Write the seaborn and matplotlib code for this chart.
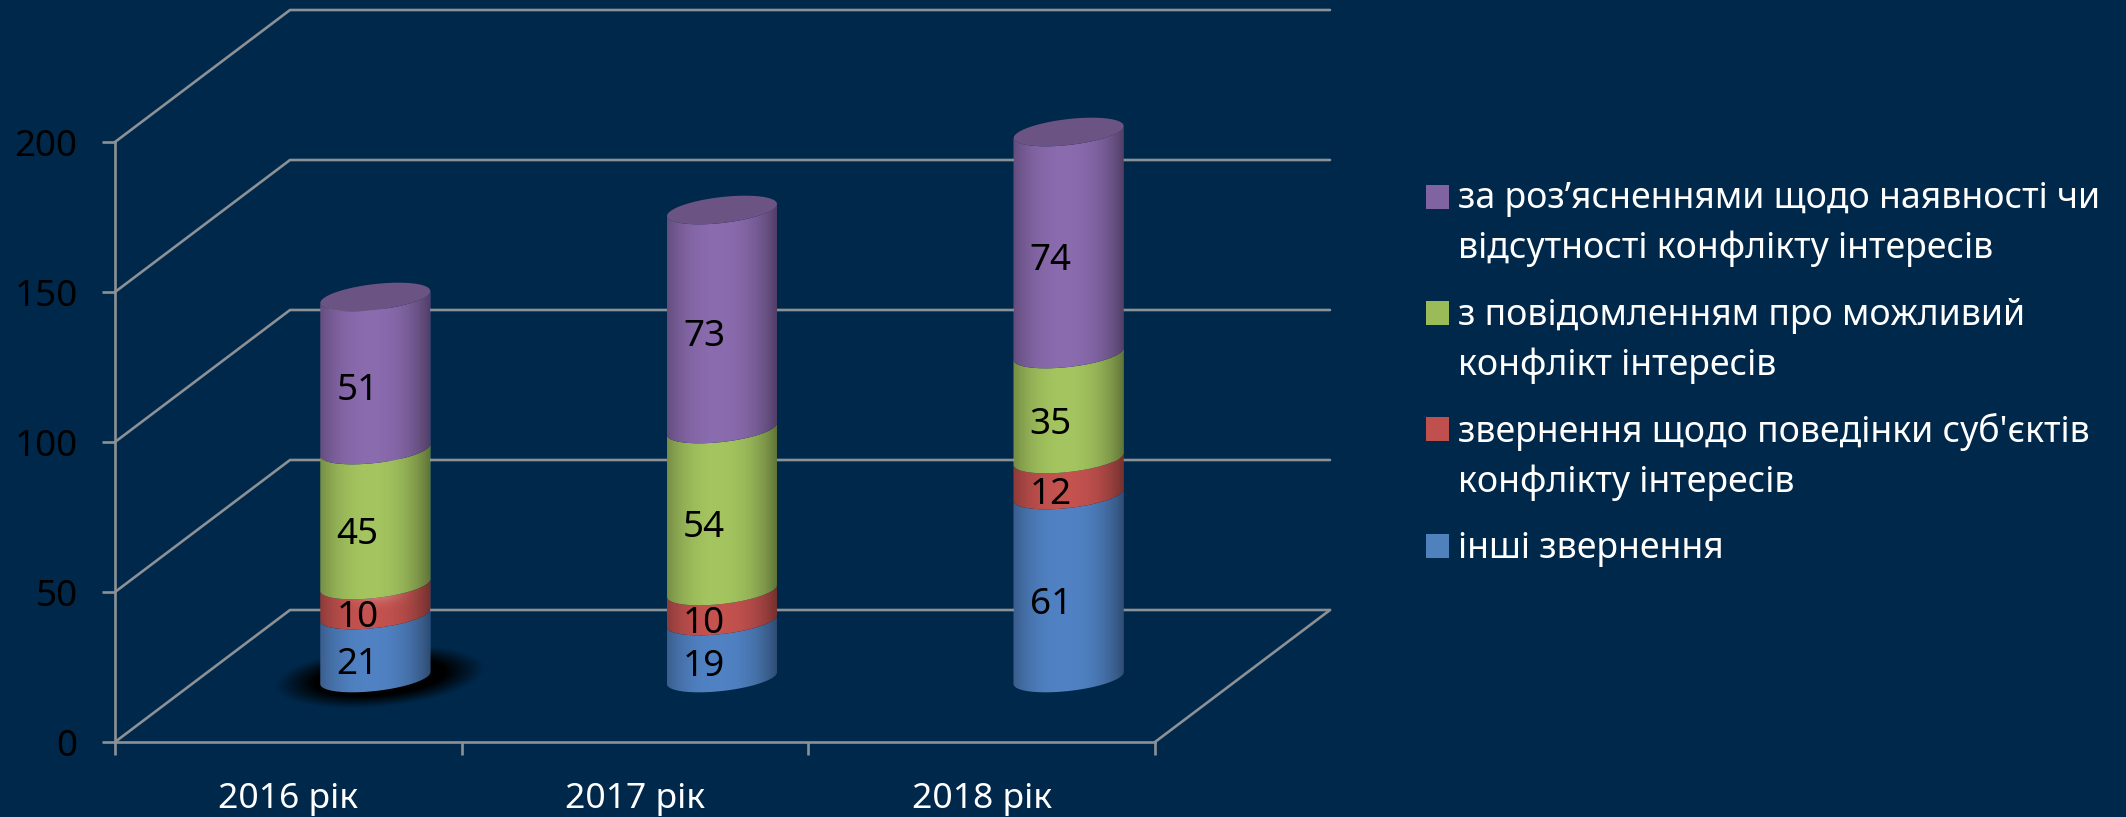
import numpy as np
import pandas as pd
import matplotlib
matplotlib.use('Agg')
import matplotlib.pyplot as plt
from matplotlib.patches import Polygon, Rectangle
import seaborn as sns

years = ['2016 рік', '2017 рік', '2018 рік']
other = [21, 19, 61]
behaviour = [10, 10, 12]
possible = [45, 54, 35]
explain = [51, 73, 74]

series_names = ['інші звернення',
                'звернення щодо поведінки суб\'єктів\nконфлікту інтересів',
                'з повідомленням про можливий\nконфлікт інтересів',
                'за роз’ясненнями щодо наявності чи\nвідсутності конфлікту інтересів']
series_values = [other, behaviour, possible, explain]
bar_colors = ['#5082C3', '#C4524F', '#A3C45F', '#8A6BAE']
legend_colors = ['#4F81BD', '#C0504D', '#9BBB59', '#8064A2']
y_ticks = [0, 50, 100, 150, 200]

BG = '#00284A'
GRID = '#8C9196'
W, H = 2126, 817
PX_Y = 3.0          # pixels per value unit
PX_X = 1040 / 3     # pixels per category

sns.set_theme(style='white')
plt.rcParams['font.family'] = ['Noto Sans', 'DejaVu Sans']

fig = plt.figure(figsize=(W / 100, H / 100), dpi=100, facecolor=BG)

# front plane with the axes
ax = fig.add_axes([115 / W, 75 / H, 1040 / W, 600 / H], facecolor='none')
ax.set_xlim(-0.5, 2.5)
ax.set_ylim(0, 200)
for side in ['top', 'right']:
    ax.spines[side].set_visible(False)
for side in ['left', 'bottom']:
    ax.spines[side].set_color(GRID)
    ax.spines[side].set_linewidth(1.9)
ax.set_yticks(y_ticks)
ax.tick_params(axis='y', length=9.4, width=1.9, color=GRID, labelcolor='black',
               labelsize=26.5, pad=17.5, left=True)
ax.set_xticks(range(3))
ax.set_xticklabels(years)
ax.set_xticks([-0.5, 0.5, 1.5, 2.5], minor=True)
ax.tick_params(axis='x', which='major', length=0, labelcolor='white', labelsize=25.5, pad=29, bottom=False)
ax.tick_params(axis='x', which='minor', length=9.4, width=1.9, color=GRID, bottom=True)

# depth of the fake 3d box
dx = 175 / PX_X
dy = 132 / PX_Y
for v in y_ticks:
    ax.plot([-0.5, -0.5 + dx, 2.5 + dx], [v, v + dy, v + dy], color=GRID, lw=1.9, clip_on=False)
ax.plot([2.5, 2.5 + dx], [0, dy], color=GRID, lw=1.9, clip_on=False)

# bars sit half way into the box
ax_bar = fig.add_axes([(115 + 87) / W, 139 / H, 1040 / W, 600 / H], facecolor='none')
ax_bar.set_zorder(ax.get_zorder() + 1)

bottoms = np.zeros(3)
for name, vals, col in zip(series_names, series_values, bar_colors):
    frame = pd.DataFrame({'year': years, 'value': vals})
    sns.barplot(data=frame, x='year', y='value', color=col, width=110 / PX_X, bottom=bottoms,
                saturation=1, errorbar=None, ax=ax_bar)
    bottoms = bottoms + np.array(vals)
ax_bar.axis('off')

# black shadow under the first bar
gx, gy = np.meshgrid(np.linspace(-1.3, 1.3, 300), np.linspace(-1.3, 1.3, 200))
dist = np.sqrt(gx ** 2 + (gy - 0.3 * gx) ** 2)
shadow = np.zeros(gx.shape + (4,))
shadow[..., 3] = np.clip((1.05 - dist) / 0.4, 0, 1)
shadow_im = ax_bar.imshow(shadow, origin='lower', extent=[-125 / PX_X, 135 / PX_X, -36 / PX_Y, 38 / PX_Y],
                          aspect='auto', zorder=1)
shadow_im.set_clip_on(False)

# turn each rectangle into a piece of a cylinder
shade = np.zeros((1, 200, 4))
shade[..., 3] = 0.34 * np.abs(np.linspace(-1, 1, 200) + 0.08) ** 2.4
b = 13 / PX_Y
lift = 6 / PX_Y
t = np.linspace(np.pi, 2 * np.pi, 60)
t_all = np.linspace(0, 2 * np.pi, 120)
for n, rect in enumerate(list(ax_bar.patches)):
    x0, w = rect.get_x(), rect.get_width()
    y0, h = rect.get_y(), rect.get_height()
    color = rect.get_facecolor()
    rect.set_visible(False)
    cx = x0 + w / 2
    low_x = cx + w / 2 * np.cos(t)
    low_y = b * np.sin(t) + lift * np.cos(t)
    pts = np.concatenate([
        np.column_stack([low_x, y0 + h + low_y]),
        np.column_stack([low_x[::-1], y0 + low_y[::-1]]),
    ])
    poly = Polygon(pts, closed=True, facecolor=color, edgecolor='none', zorder=3, clip_on=False)
    ax_bar.add_patch(poly)
    im = ax_bar.imshow(shade, extent=[x0, x0 + w, y0 - 6, y0 + h + 6], aspect='auto', zorder=4)
    im.set_clip_box(fig.bbox)
    im.set_clip_path(poly)
    if n == 3:
        # the thin red slice of 2016 has a glossy spot
        hx, hy = np.meshgrid(np.linspace(-1, 1, 120), np.linspace(-1, 1, 60))
        gloss = np.ones(hx.shape + (4,))
        gloss[..., 3] = 0.3 * np.exp(-(hx / 0.45) ** 2 - (hy / 0.5) ** 2)
        im2 = ax_bar.imshow(gloss, origin='lower', aspect='auto', zorder=4.5,
                            extent=[x0, x0 + w, y0 + h - 9, y0 + h + 5])
        im2.set_clip_box(fig.bbox)
        im2.set_clip_path(poly)
    ax_bar.annotate(f'{h:.0f}', (cx, y0 + h / 2), xytext=(-18, -18), textcoords='offset pixels',
                    ha='center', va='center', color='black', fontsize=26.5, zorder=6)

# purple lid
for x_c, total in zip(range(3), bottoms):
    half = 110 / PX_X / 2
    ax_bar.add_patch(Polygon(np.column_stack([x_c + half * np.cos(t_all),
                                              total + b * np.sin(t_all) + lift * np.cos(t_all)]),
                             closed=True, facecolor='#6B5483', edgecolor='none', zorder=5))
ax_bar.set_xlim(-0.5, 2.5)
ax_bar.set_ylim(0, 200)

# legend, top entry first
square_y = [197, 313, 429, 546]
baseline_y = [208, 325, 442, 558]
for sq, base, name, col in zip(square_y, baseline_y, series_names[::-1], legend_colors[::-1]):
    fig.add_artist(Rectangle((1426 / W, 1 - (sq + 12) / H), 23 / W, 24 / H, transform=fig.transFigure,
                             facecolor=col, edgecolor='none'))
    for i, line in enumerate(name.split('\n')):
        fig.text(1458 / W, 1 - (base + i * 50) / H, line, color='white', fontsize=25.7,
                 va='baseline', ha='left')

fig.savefig('out.png', dpi=100, facecolor=BG)
